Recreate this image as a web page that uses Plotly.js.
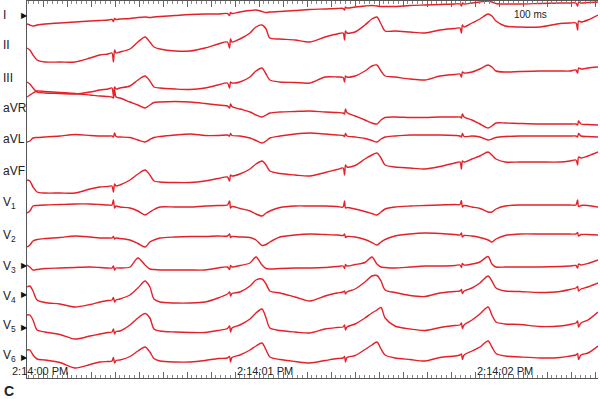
<!DOCTYPE html>
<html><head><meta charset="utf-8">
<script src="https://cdn.plot.ly/plotly-3.0.1.min.js"></script>
<style>html,body{margin:0;padding:0;background:#fff}#chart{width:600px;height:399px}</style>
</head><body><div id="chart"></div>
<script>
// time in ms after 2:14:00 PM
const timeMs = [133,145,158,175,208,270,333,396,437,471,487,493,498,504,520,562,595,625,645,662,687,750,812,875,929,968,977,981,987,1020,1062,1087,1112,1129,1145,1187,1250,1312,1375,1425,1450,1456,1460,1466,1500,1541,1570,1591,1608,1625,1666,1729,1791,1854,1916,1937,1943,1947,1954,1987,2020,2054,2070,2087,2125,2187,2270,2354,2395,2420,2427,2431,2441,2470,2512];

const leadNames = ['I','II','III','aVR','aVL','aVF','V<sub>1</sub>','V<sub>2</sub>','V<sub>3</sub>','V<sub>4</sub>','V<sub>5</sub>','V<sub>6</sub>'];

// amplitudes (positive = upward deflection)
const leadI   = [-4,-5,-6,-5,-4,-3,-2,-1,-0.5,0,0.5,-1.5,1.5,0.5,1,1.5,2.5,3,2.5,3,3.5,4.5,5.5,6,6,6.5,4.5,7.5,6.5,8,9.5,10,8.5,7.5,8,8.5,9.5,10.5,11,11.5,11.5,10,13,12,13,14,14.5,14,13.5,13.5,13.5,14.5,15,15.5,16,16,14,17,16,17,18,19,18,16.5,16,16,16.5,17,17,17,14,18,17,17.5,18];
const leadII  = [2,0,-5,-10,-12,-12,-12,-8,-5,-4,-3,-12,0,-3,-2,1,8,13,8,3,1,-1,-1,2,6,8,2,11,8,11,17,23,25,21,12,11,10,8,13,16,17,10,19,17,18,25,31,33,26,19,19,18,17,20,21.5,22,17,25,23,27,31,36,34,29,24,23,23,26.5,27,27,20,29,28,30,35];
const leadIII = [-2,-4,-8,-12,-13,-13.5,-14,-12,-10,-9,-8,-16,-7,-9,-8,-6,0,4,-1,-7,-8,-9,-9.5,-8,-5,-3,-8,-2,-3,-2,3,9,12,6,0,-2,-2.5,-3,3,3,2.5,-2,4,3,4,9,14,15,9,4,3,1,0,4,5.5,6,3,8,7,8,11,15,13,9,8,8.5,9,9,9,10,7,12,11,12,13];
const leadAVR = [13,15,17,19,18.5,17.5,16.5,15,14,13.5,13,12,20,13,12,8,5,2,5,7.5,8,8.5,8,6.5,5,4,2,6,3.5,1,-2,-5,-7,-5,-3,-2,-1.5,-1,-2,-2.5,-3,-4,1,-2.5,-6,-10,-13,-14,-10,-7.5,-7,-7.5,-7.5,-7,-7,-7,-8,-4,-7,-10,-14,-18,-16,-13,-13,-13.5,-14,-14,-14,-14,-15,-11,-14,-14.5,-15];
const leadAVL = [-2,-1,2,2.5,3,4,5.5,4.5,4,4,4,3,7,3.5,3,2.5,0,-2,0.5,2.5,3.5,5,6,4.5,4.5,5,4,6.5,4.5,4,2,-0.5,-3,-1,2,4,6,7,6,5,4.5,3.5,6.5,4,3,1.5,-0.5,-2,1,3,4,5,5,5,4.5,4,3,6.5,3.5,4,3,0,1,2.5,3.5,4,4,4,4,4,3,6.5,4,3.5,3];
const leadAVF = [-10,-11,-17,-22,-23,-23,-23,-19,-17,-16.5,-16,-22,-14,-16,-15,-10,-4,0,-5,-11,-12,-12.5,-12.5,-11,-8.5,-7,-11,-5,-6,-4,1,6,9,5,-1,-3.5,-5,-6,-2.5,0.5,2,-5,5,3,4.5,11,15,17,12,5,3,2,1,3.5,7,8,1,9,8,11,14,18,15,11,8,8,8,8,9,10,5,13,12,14,18];
const leadV1  = [-3,-1,4,4.5,5,5.5,6,6,5.5,5,5,10,2,4,3,2,-1,-5,-2,0.5,3,3,3,4,4.5,5,9,2,3.5,1.5,-1,-4,-6,-3,-1,2.5,4,4,4,3.5,3,9,2,2.5,1,-1.5,-3.5,-5,-2,1,3,4,4.5,5,5.5,5.5,9.5,3,4.5,3,1.5,-2,-2,1,4,5,5,5,5,5,10,3.5,4.5,4.5,3];
const leadV2  = [-7,-5,-1,0.5,1.5,2.5,4,3,2,2,2,3.5,1,2,1.5,0,-3.5,-7,-2,0,2,3,3.5,3.5,4,4,6,2.5,3.5,3,2.5,0,-5.5,-4.5,-2,3,5,6,5.5,5,4.5,6,2.5,3.5,3,0.5,-2.5,-5,-2,0.5,4,6,7,6.5,5.5,5,7,3,4.5,4,2.5,0,-2,1,4.5,6,6,6,6,6,7.5,4,5.5,5.5,5];
const leadV3  = [5,3,0,0.5,1.5,2,2.5,3,2.5,2,2,4,0,2,2,3,12,5,1,0.5,0,0,0,0,2,3,0.5,4.5,3,4.5,7,13,5,1.5,1,1.5,2,2,2.5,3.5,4,1.5,5.5,4,5.5,7.5,13,6,3,2.5,2,3,4,4,4.5,5,2.5,6.5,5,6,8,13.5,6,3,3,3,3,3.5,4,4.5,2,6,5,6.5,10];
const leadV4  = [13,14,9,0,-2.5,-4,-7,-4.5,-2,-0.5,0,2.5,-2,0,1,5,12,19,13,1,-2,-3,-3,-2,2,6,8,4,6.5,8,14,20,21,16,9,7,3,-1,4,7,8,9,6,8,11,18,24,24.5,19,10,7.5,4.5,3.5,7,8.5,9,10.5,6.5,9,12,17,24,19,12,9,8.5,7.5,8.5,10.5,12,13.5,9,11,13,17];
const leadV5  = [15,15,10,0,-2,-4.5,-9,-6,-4,-2.5,-2,1,-4,-1.5,-1,5,12,16.5,12,1,-1,-2,-2.5,-2.5,-0.5,1.5,4,-2,2,5,11,17,21,12,2,-0.5,-2,-3,1,2.5,3,5,0,3,6,12,17,20,22.5,12,4,1,-0.5,2.5,4.5,5,7,1.5,5,10,16,23,15,8,6,5.5,3.5,4,5.5,7,9,3,7,10,18];
const leadV6  = [10,10,5,1,0,-2.5,-8,-4.5,-2,-1.5,-1,2.5,-3,-0.5,0,3.5,9,13,8,1.5,-1,-2,-2,-0.5,1.5,2,3.5,-2,2.5,5,10,14,17,10,3,0.5,-1.5,-3,-0.5,1.5,2,3.5,-2,2.5,4.5,10.5,15,18,11,5,2,0.5,-1,2.5,4,5,6,0.5,5,9,13,19,13,6.5,4,3,2,2.5,4,5,6.5,0.5,5,7,14];

const timeLabels = ['2:14:01 PM','2:14:02 PM'];
const timeLabelAt = [1000, 2000];
const markedLeads = [0, 8, 9, 10, 11]; // leads with a reference marker

// layout: vertical placement of each lead strip (axis units, downward)
const leadBaseline = [20,50,80,110,140,170,210,240,270,300,330,360];
const labelY = [15,45,78,108,139,171,203,236,267,297,326,356];
const markerY = [15,265,294,327,357];

const leads = [leadI,leadII,leadIII,leadAVR,leadAVL,leadAVF,leadV1,leadV2,leadV3,leadV4,leadV5,leadV6];
const RED = 'rgb(228,32,40)';

const traces = leads.map((amp, i) => ({
  type: 'scatter', mode: 'lines',
  x: timeMs, y: amp.map(a => leadBaseline[i] - a),
  line: {color: RED, width: 1.4, shape: 'spline', smoothing: 0.8},
  hoverinfo: 'skip'
}));

const font = {family: 'Liberation Sans, Arial, Helvetica, sans-serif', color: '#222'};
const annotations = [];
leadNames.forEach((n, i) => annotations.push({
  text: n, xref: 'paper', x: -0.045, xanchor: 'left', yref: 'y', y: labelY[i], yanchor: 'middle',
  showarrow: false, font: Object.assign({size: 12}, font)
}));
markedLeads.forEach((li, k) => annotations.push({
  text: '\u25B6', xref: 'paper', x: -0.005, xanchor: 'center', yref: 'y', y: markerY[k], yanchor: 'middle',
  showarrow: false, font: {family: 'DejaVu Sans, sans-serif', size: 8, color: '#111'}
}));
annotations.push({text: '2:14:00 PM', xref: 'paper', x: -0.03, xanchor: 'left', yref: 'y', y: 371, yanchor: 'middle',
  showarrow: false, font: Object.assign({size: 11}, font)});
timeLabels.forEach((t, i) => annotations.push({text: t, xref: 'x', x: timeLabelAt[i], xanchor: 'left', yref: 'y', y: 371, yanchor: 'middle',
  showarrow: false, font: Object.assign({size: 11}, font)}));
annotations.push({text: '100 ms', xref: 'x', x: 2229, xanchor: 'center', yref: 'y', y: 14, yanchor: 'middle',
  showarrow: false, font: Object.assign({size: 10}, font)});
annotations.push({text: '<b>C</b>', xref: 'paper', x: -0.042, xanchor: 'left', yref: 'paper', y: -0.034, yanchor: 'middle',
  showarrow: false, borderpad: 0, font: Object.assign({size: 14}, font)});

const layout = {
  width: 600, height: 399,
  margin: {l: 27, r: 2, t: 1, b: 21},
  paper_bgcolor: '#fff', plot_bgcolor: '#fff',
  showlegend: false,
  xaxis: {range: [133, 2512], showgrid: false, zeroline: false, showline: true, linecolor: '#555', linewidth: 1,
    mirror: 'ticks', ticks: 'inside', ticklen: 6, tickcolor: '#666', tickwidth: 1, tick0: 0, dtick: 100,
    showticklabels: false,
    minor: {tick0: 0, dtick: 20, ticks: 'inside', ticklen: 3, tickcolor: '#888', tickwidth: 1, showgrid: false}},
  yaxis: {range: [378, 1], showgrid: false, zeroline: false, showline: true, linecolor: '#555', linewidth: 1,
    showticklabels: false, ticks: ''},
  annotations: annotations
};
Plotly.newPlot('chart', traces, layout, {staticPlot: true, displayModeBar: false});
</script></body></html>
